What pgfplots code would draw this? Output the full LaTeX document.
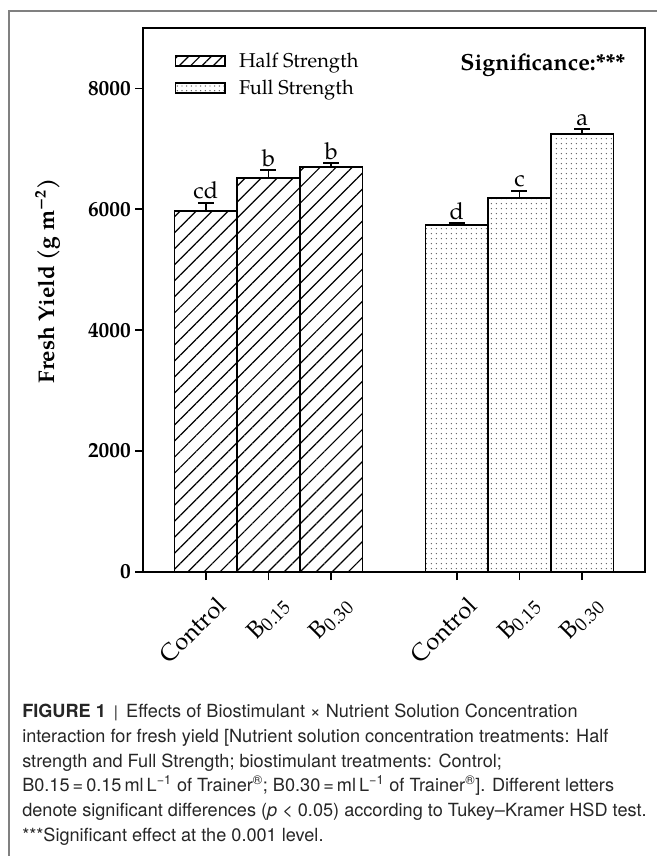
\documentclass[border=0pt]{standalone}
\usepackage{pgfplots}
\pgfplotsset{compat=1.18}
\usepackage{pgfplotstable}
\usepackage{fontspec}
\setmainfont{TeX Gyre Pagella}
\newfontfamily\capfont{TeX Gyre Heros}
\usetikzlibrary{patterns.meta}

% fresh yield, g m^-2 (bar, upper error, letter)
\pgfplotstableread{
x y err lab
0 5975 130 cd
1 6520 130 b
2 6700 65 b
}\half
\pgfplotstableread{
x y err lab
4 5740 35 d
5 6190 115 c
6 7250 80 a
}\full

\newcommand{\sub}[1]{{\fontsize{14}{14}\selectfont\raisebox{-2.5pt}{#1}}}

\begin{document}
\begin{tikzpicture}
\path[use as bounding box] (0,0) rectangle (492.75pt,-642pt);
\draw[gray, line width=0.8pt] (6.75pt,-642pt) -- (6.75pt,-8.25pt) -- (492.75pt,-8.25pt);
\begin{axis}[
    at={(107.25pt,-429pt)}, anchor=south west,
    scale only axis, width=376.5pt, height=408pt,
    xmin=-1, xmax=7, ymin=0, ymax=9000,
    axis line style={line width=1.4pt},
    tick style={line width=1.3pt, black},
    major tick length=6pt,
    tick align=outside,
    xtick pos=bottom, ytick pos=left,
    xtick={0,1,2,4,5,6},
    xticklabels={Control,B\sub{0.15},B\sub{0.30},Control,B\sub{0.15},B\sub{0.30}},
    x tick label style={xshift=7pt, yshift=-8pt, rotate=45, anchor=north east,
        font=\fontsize{18}{18}\selectfont, inner sep=2pt},
    ytick={0,2000,4000,6000,8000},
    /pgf/number format/assume math mode=true,
    /pgf/number format/1000 sep={},
    yticklabel style={font=\bfseries\fontsize{16}{16}\selectfont, inner sep=3pt},
    scaled y ticks=false,
    ylabel={\bfseries Fresh Yield (g m\textsuperscript{−2})},
    every axis y label/.style={at={(axis description cs:-0.19,0.535)}, rotate=90, anchor=center,
        font=\fontsize{17}{17}\selectfont},
    legend style={at={(0.058,0.965)}, anchor=north west, draw=none, fill=none,
        font=\fontsize{15}{15}\selectfont, row sep=4pt, inner sep=2pt,
        /tikz/every odd column/.append style={column sep=8pt}},
    legend cell align=left,
    clip=false,
]
\addplot[ybar, bar width=1, bar shift=0pt, draw=black, line width=1.2pt,
    pattern={Lines[angle=45,distance=8.5pt,line width=0.9pt]}, pattern color=black,
    legend image code/.code={\draw[draw=black, line width=1pt, pattern={Lines[angle=45,distance=6pt,line width=0.9pt]}] (0pt,-3.75pt) rectangle (37pt,3.75pt);},
    error bars/.cd, y dir=plus, y explicit, error mark=|,
    error bar style={line width=1.2pt, black},
    error mark options={line width=1.2pt, mark size=6pt, black}]
    table[x=x, y=y, y error=err]{\half};
\addlegendentry{Half Strength}
\addplot[ybar, bar width=1, bar shift=0pt, draw=black, line width=1.2pt,
    pattern={Dots[distance=4pt,radius=0.6pt]}, pattern color=black!65,
    legend image code/.code={\draw[draw=black, line width=1pt, pattern={Dots[distance=3.5pt,radius=0.55pt]}, pattern color=black!65] (0pt,-3.75pt) rectangle (37pt,3.75pt);},
    error bars/.cd, y dir=plus, y explicit, error mark=|,
    error bar style={line width=1.2pt, black},
    error mark options={line width=1.2pt, mark size=6pt, black}]
    table[x=x, y=y, y error=err]{\full};
\addlegendentry{Full Strength}
\addplot[ybar, bar width=1, bar shift=0pt, draw=none, fill=none, forget plot,
    nodes near coords, point meta=explicit symbolic,
    nodes near coords style={anchor=south, font=\fontsize{17.5}{17.5}\selectfont, inner sep=2.5pt, text=black}]
    table[x=x, y expr=\thisrow{y}+\thisrow{err}, meta=lab]{\half};
\addplot[ybar, bar width=1, bar shift=0pt, draw=none, fill=none, forget plot,
    nodes near coords, point meta=explicit symbolic,
    nodes near coords style={anchor=south, font=\fontsize{17.5}{17.5}\selectfont, inner sep=2.5pt, text=black}]
    table[x=x, y expr=\thisrow{y}+\thisrow{err}, meta=lab]{\full};
\node[anchor=base east, font=\bfseries\fontsize{17.5}{17.5}\selectfont] at (rel axis cs:0.97,0.922) {Significance:***};
\end{axis}
\node[anchor=north west, align=left, inner sep=0pt, text=black!85,
    font=\capfont\fontsize{13.6}{18.5}\selectfont] at (16.5pt,-528pt) {%
\textbf{FIGURE 1}\, {\large|}\, Effects of Biostimulant × Nutrient Solution Concentration\\
interaction for fresh yield [Nutrient solution concentration treatments: Half\\
strength and Full Strength; biostimulant treatments: Control;\\
B0.15\,=\,0.15\,ml\,L\textsuperscript{−1} of Trainer\textsuperscript{®}; B0.30\,=\,ml\,L\textsuperscript{−1} of Trainer\textsuperscript{®}]. Different letters\\
denote significant differences (\textit{p} < 0.05) according to Tukey–Kramer HSD test.\\
***Significant effect at the 0.001 level.};
\end{tikzpicture}
\end{document}
